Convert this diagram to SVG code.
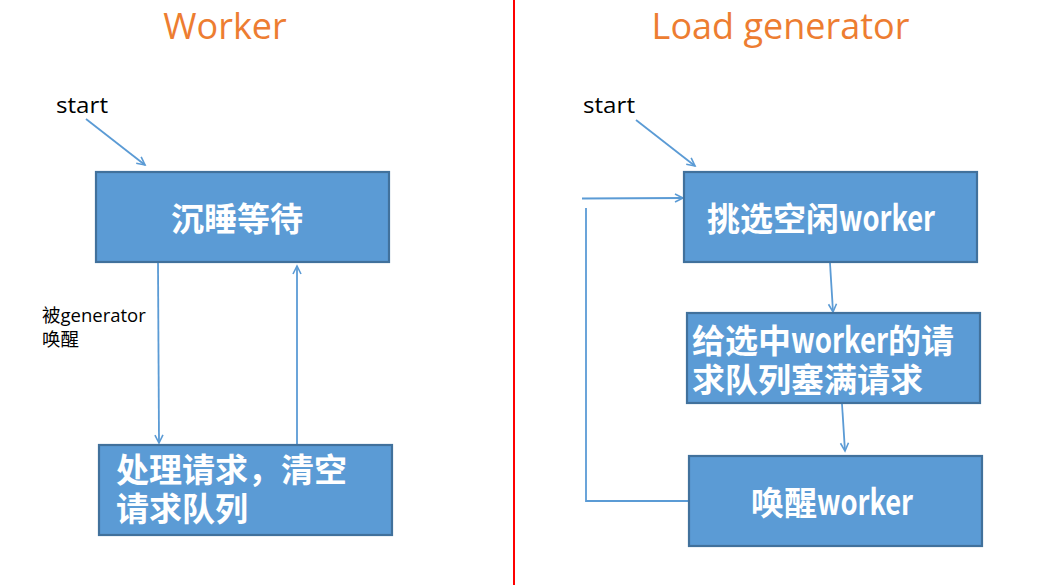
<svg xmlns="http://www.w3.org/2000/svg" width="1059" height="585" viewBox="0 0 1059 585">
  <style>
    .box { fill: #5B9BD5; stroke: #41719C; stroke-width: 2.2; }
    .lbl { fill: #FFFFFF; font-family: "Noto Sans CJK SC", "Noto Sans", sans-serif; font-weight: bold; font-size: 33px; }
    .title { fill: #ED7D31; font-family: "Open Sans", "Noto Sans", sans-serif; font-size: 36px; text-anchor: middle; }
    .note { fill: #000000; font-family: "Open Sans", "Noto Sans CJK SC", sans-serif; }
    .conn { fill: none; stroke: #5B9BD5; stroke-width: 1.8; }
  </style>
  <defs>
    <marker id="arr" markerUnits="userSpaceOnUse" markerWidth="12" markerHeight="12" refX="9" refY="5" orient="auto">
      <path d="M1,1 L9,5 L1,9" fill="none" stroke="#5B9BD5" stroke-width="1.6"/>
    </marker>
  </defs>
  <rect width="1059" height="585" fill="#FFFFFF"/>

  <line id="divider" x1="514" y1="0" x2="514" y2="585" stroke="#FF0000" stroke-width="2"/>

  <g id="titles">
    <text class="title" x="225" y="38.5">Worker</text>
    <text class="title" x="780.5" y="38.5">Load generator</text>
  </g>

  <g id="notes">
    <text class="note" x="56" y="113" font-size="21" textLength="52" lengthAdjust="spacingAndGlyphs">start</text>
    <text class="note" x="583" y="113" font-size="21" textLength="52" lengthAdjust="spacingAndGlyphs">start</text>
    <text class="note" x="42" y="322" font-size="18.5">被generator</text>
    <text class="note" x="42" y="346" font-size="18.5">唤醒</text>
  </g>

  <g id="connectors">
    <line class="conn" x1="86" y1="119" x2="145" y2="165" marker-end="url(#arr)"/>
    <line class="conn" x1="158" y1="263" x2="159" y2="443" marker-end="url(#arr)"/>
    <line class="conn" x1="297" y1="444" x2="297" y2="266" marker-end="url(#arr)"/>
    <line class="conn" x1="636" y1="120" x2="695" y2="166" marker-end="url(#arr)"/>
    <line class="conn" x1="830" y1="263" x2="833" y2="312" marker-end="url(#arr)"/>
    <line class="conn" x1="842" y1="404" x2="845" y2="451" marker-end="url(#arr)"/>
    <polyline class="conn" points="689,501 586,501 586,208"/>
    <line class="conn" x1="582" y1="198.5" x2="683" y2="198" marker-end="url(#arr)"/>
  </g>

  <g id="node-sleep">
    <rect class="box" x="96" y="172" width="293" height="90"/>
    <text class="lbl" x="237" y="230.5" text-anchor="middle">沉睡等待</text>
  </g>

  <g id="node-process">
    <rect class="box" x="99" y="445" width="293" height="90"/>
    <text class="lbl" x="116" y="482">处理请求，清空</text>
    <text class="lbl" x="116" y="521">请求队列</text>
  </g>

  <g id="node-pick">
    <rect class="box" x="684" y="172" width="293" height="90"/>
    <text class="lbl" x="707" y="230.5">挑选空闲<tspan font-size="35" textLength="96" lengthAdjust="spacingAndGlyphs">worker</tspan></text>
  </g>

  <g id="node-fill">
    <rect class="box" x="687" y="313" width="293" height="90"/>
    <text class="lbl" x="692" y="352.5">给选中<tspan font-size="35" textLength="97" lengthAdjust="spacingAndGlyphs">worker</tspan>的请</text>
    <text class="lbl" x="692" y="391.5">求队列塞满请求</text>
  </g>

  <g id="node-wake">
    <rect class="box" x="689" y="456" width="293" height="90"/>
    <text class="lbl" x="751" y="514.5">唤醒<tspan font-size="35" textLength="96" lengthAdjust="spacingAndGlyphs">worker</tspan></text>
  </g>
</svg>
